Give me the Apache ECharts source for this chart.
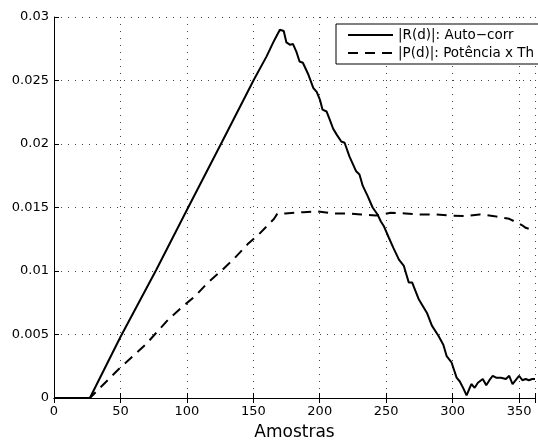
<!DOCTYPE html>
<html>
<head>
<meta charset="utf-8">
<script src="https://cdn.jsdelivr.net/npm/echarts@6/dist/echarts.min.js"></script>
<style>
html,body{margin:0;padding:0;background:#fff;}
#chart{width:538px;height:446px;}
</style>
</head>
<body>
<div id="chart"></div>
<script>
// |R(d)|: Auto-corr  (sample index, value)
var rX = [0, 27, 50, 77, 100, 126.6, 150.6, 160, 165, 168, 170, 172.9, 174.9, 177.8, 179.8, 182.3, 184.8, 187.3, 191.5, 195.2, 197.7, 200.1, 202.1, 205.1, 207.6, 210.1, 213, 216.2, 218.7, 222.4, 227.4, 229.9, 232.4, 236.1, 239.8, 243.5, 246, 248.4, 252.1, 255.5, 259.6, 263.3, 267, 269.5, 274.4, 280.7, 284.4, 289.3, 293, 295.5, 299.2, 303, 305.4, 307.9, 310.5, 314.1, 316.6, 319, 322.7, 325.3, 327.7, 330.2, 332.7, 336.4, 340.1, 342.6, 345.1, 346.3, 350, 352.5, 355, 357.4, 360, 362];
var rY = [0, 0, 0.0048, 0.0101, 0.0148, 0.0202, 0.0251, 0.0269, 0.0280, 0.0286, 0.0290, 0.0289, 0.0280, 0.0278, 0.02788, 0.0273, 0.0265, 0.0264, 0.02545, 0.0244, 0.0241, 0.0235, 0.0227, 0.02256, 0.0219, 0.0212, 0.0207, 0.0202, 0.0201, 0.0190, 0.01785, 0.0176, 0.0167, 0.0159, 0.0150, 0.01445, 0.0139, 0.0135, 0.0126, 0.0118, 0.0109, 0.0104, 0.0091, 0.0091, 0.0078, 0.0067, 0.0057, 0.0049, 0.0042, 0.0033, 0.0028, 0.0016, 0.0013, 0.0008, 0.0002, 0.0011, 0.0008, 0.0012, 0.0015, 0.0010, 0.0014, 0.00175, 0.0016, 0.0016, 0.0015, 0.00175, 0.0011, 0.0012, 0.00175, 0.0014, 0.0015, 0.0014, 0.0015, 0.0015];
// |P(d)|: Potência x Th
var pX = [0, 27, 49, 68.9, 86.2, 97.3, 106, 115.9, 125.8, 135.8, 145.6, 154.3, 165.5, 168, 174, 187.8, 197.7, 210, 221.2, 231.1, 242.3, 253.4, 264.5, 275.7, 286.8, 298, 309.1, 320.3, 331.4, 342.6, 352.4, 355, 358, 362];
var pY = [0, 0, 0.0023, 0.0042, 0.0062, 0.00725, 0.0080, 0.0091, 0.0100, 0.0110, 0.0121, 0.0129, 0.0141, 0.0145, 0.01453, 0.01463, 0.0147, 0.01453, 0.01453, 0.01445, 0.01437, 0.01458, 0.01453, 0.01445, 0.01445, 0.01437, 0.01432, 0.01445, 0.01432, 0.01411, 0.0136, 0.0134, 0.0133, 0.0133];
var seriesNames = ['|R(d)|: Auto\u2212corr', '|P(d)|: Potência x Th'];
var xTicks = [0, 50, 100, 150, 200, 250, 300, 350];
var yTicks = [0, 0.005, 0.01, 0.015, 0.02, 0.025, 0.03];
var xTitle = 'Amostras';

function pairs(xs, ys) { return xs.map(function (x, i) { return [x, ys[i]]; }); }

var FONT = 'DejaVu Sans';
var gridLine = { show: true, lineStyle: { color: '#444', width: 1, type: [1, 6] } };

var chart = echarts.init(document.getElementById('chart'), null, { renderer: 'canvas' });
chart.setOption({
  animation: false,
  backgroundColor: '#fff',
  grid: { left: 54, top: 17, right: -3, bottom: 47 },
  legend: {
    orient: 'vertical',
    left: 336, top: 24,
    padding: [4, 16, 4, 11],
    itemGap: 4,
    itemWidth: 45,
    itemHeight: 14,
    borderColor: '#000', borderWidth: 1,
    backgroundColor: '#fff',
    itemStyle: { opacity: 0 },
    textStyle: { fontFamily: FONT, fontSize: 13.5, color: '#000' },
    data: seriesNames
  },
  xAxis: [{
    type: 'value', min: 0, max: 362, interval: 50,
    position: 'bottom',
    axisLine: { show: true, onZero: false, lineStyle: { color: '#000', width: 1 } },
    axisTick: { show: true, inside: true, length: 5, lineStyle: { color: '#000' } },
    axisLabel: {
      fontFamily: FONT, fontSize: 13, color: '#000', margin: 7,
      formatter: function (v) { return xTicks.indexOf(v) >= 0 ? String(v) : ''; }
    },
    splitLine: gridLine,
    name: xTitle, nameLocation: 'middle', nameGap: 26,
    nameTextStyle: { fontFamily: FONT, fontSize: 17, color: '#000' }
  }, {
    type: 'value', min: 0, max: 362, interval: 50,
    position: 'top',
    axisLine: { show: true, lineStyle: { color: '#000', width: 1 } },
    axisTick: { show: true, inside: true, length: 5, lineStyle: { color: '#000' } },
    axisLabel: { show: false },
    splitLine: { show: false }
  }],
  yAxis: [{
    type: 'value', min: 0, max: 0.03, interval: 0.005,
    axisLine: { show: true, onZero: false, lineStyle: { color: '#000', width: 1 } },
    axisTick: { show: true, inside: true, length: 5, lineStyle: { color: '#000' } },
    axisLabel: {
      fontFamily: FONT, fontSize: 13, color: '#000', margin: 5,
      formatter: function (v) {
        for (var i = 0; i < yTicks.length; i++) {
          if (Math.abs(yTicks[i] - v) < 1e-9) return String(yTicks[i]);
        }
        return '';
      }
    },
    splitLine: gridLine
  }],
  series: [{
    name: seriesNames[0], type: 'line', xAxisIndex: 0, yAxisIndex: 0,
    data: pairs(rX, rY), symbol: 'none', smooth: false,
    lineStyle: { color: '#000', width: 2, type: 'solid' },
    itemStyle: { color: '#000' },
    z: 3
  }, {
    name: seriesNames[1], type: 'line', xAxisIndex: 0, yAxisIndex: 0,
    data: pairs(pX, pY), symbol: 'none', smooth: false,
    lineStyle: { color: '#000', width: 2, type: [10, 7] },
    itemStyle: { color: '#000' },
    z: 3
  }]
});
</script>
</body>
</html>
